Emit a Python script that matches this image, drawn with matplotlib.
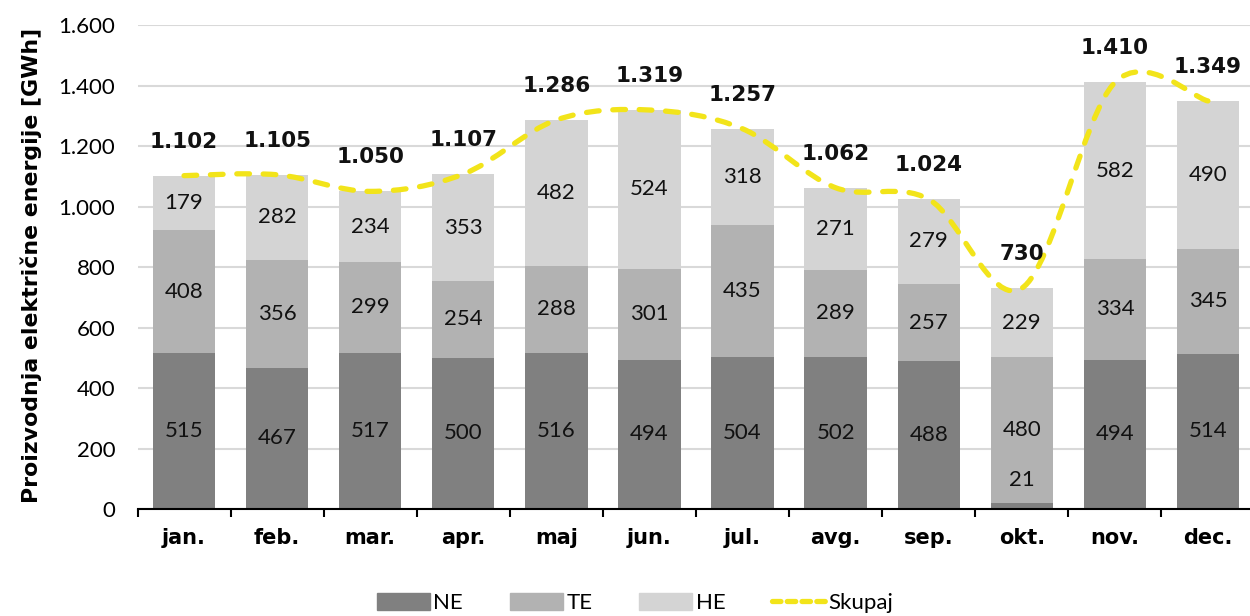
import matplotlib
matplotlib.use('Agg')
import matplotlib.pyplot as plt
import numpy as np
from matplotlib.path import Path
from matplotlib.patches import PathPatch
from matplotlib.lines import Line2D
from matplotlib.ticker import FuncFormatter

plt.rcParams['font.family'] = ['Lato', 'DejaVu Sans']

months = ['jan.', 'feb.', 'mar.', 'apr.', 'maj', 'jun.', 'jul.', 'avg.', 'sep.', 'okt.', 'nov.', 'dec.']
ne = [515, 467, 517, 500, 516, 494, 504, 502, 488, 21, 494, 514]
te = [408, 356, 299, 254, 288, 301, 435, 289, 257, 480, 334, 345]
he = [179, 282, 234, 353, 482, 524, 318, 271, 279, 229, 582, 490]
skupaj = [1102, 1105, 1050, 1107, 1286, 1319, 1257, 1062, 1024, 730, 1410, 1349]

C_NE, C_TE, C_HE = '#808080', '#b2b2b2', '#d4d4d4'
YELLOW = '#f2e41a'
FS = 16
BOLD = ['DejaVu Sans']


def fmt(v):
    return f'{int(v):,}'.replace(',', '.')


def smooth_path(xs, ys):
    # Excel-like smoothed line: Catmull-Rom converted to cubic Bezier
    pts = np.column_stack([xs, ys]).astype(float)
    ext = np.vstack([pts[0], pts, pts[-1]])
    verts = [pts[0]]
    codes = [Path.MOVETO]
    for i in range(len(pts) - 1):
        p0, p1, p2, p3 = ext[i], ext[i + 1], ext[i + 2], ext[i + 3]
        verts += [p1 + (p2 - p0) / 6, p2 - (p3 - p1) / 6, p2]
        codes += [Path.CURVE4] * 3
    return Path(verts, codes)


fig = plt.figure(figsize=(12.5, 6.16), dpi=100)
ax = fig.add_axes([0.11, 0.1737, 0.8936, 0.7857])

x = np.arange(len(months))
w = 0.67
ne_a, te_a, he_a = np.array(ne), np.array(te), np.array(he)
ax.bar(x, ne_a, w, color=C_NE, zorder=2)
ax.bar(x, te_a, w, bottom=ne_a, color=C_TE, zorder=2)
ax.bar(x, he_a, w, bottom=ne_a + te_a, color=C_HE, zorder=2)

for i in x:
    for base, val in [(0, ne_a[i]), (ne_a[i], te_a[i]), (ne_a[i] + te_a[i], he_a[i])]:
        if val < 60:
            ax.annotate(str(val), (i, base + val), xytext=(0, 16), textcoords='offset points',
                        ha='center', va='center', fontsize=FS, color='#111111', zorder=4)
        else:
            ax.text(i, base + val / 2, str(val), ha='center', va='center',
                    fontsize=FS, color='#111111', zorder=4)
    ax.annotate(fmt(skupaj[i]), (i, skupaj[i]), xytext=(0, 24.5), textcoords='offset points',
                ha='center', va='center', fontsize=15.5, fontweight='bold', family=BOLD,
                color='#111111', zorder=5)

path = smooth_path(x, skupaj)
ax.add_patch(PathPatch(path, fill=False, edgecolor=YELLOW, lw=3.8,
                       linestyle=(0, (2.4, 2.6)), capstyle='round', zorder=3))

ax.set_xlim(-0.5, len(months) - 0.5)
ax.set_ylim(0, 1600)
ax.set_yticks(np.arange(0, 1601, 200))
ax.yaxis.set_major_formatter(FuncFormatter(lambda v, p: fmt(v)))
ax.grid(axis='y', color='#d9d9d9', lw=1.5, zorder=0)
ax.set_axisbelow(True)

ax.set_xticks(x)
ax.set_xticklabels(months, fontweight='bold', family=BOLD)
ax.set_xticks(np.arange(-0.5, len(months), 1), minor=True)
ax.tick_params(axis='x', which='major', length=0, pad=14, labelsize=15)
ax.tick_params(axis='x', which='minor', length=6, width=1.5, direction='out', color='black')
ax.tick_params(axis='y', length=0, pad=16, labelsize=FS)

for s in ['top', 'right', 'left']:
    ax.spines[s].set_visible(False)
ax.spines['bottom'].set_linewidth(1.5)
ax.spines['bottom'].set_zorder(6)

fig.text(0.025, 0.569, 'Proizvodnja električne energije [GWh]', rotation=90,
         ha='center', va='center', fontsize=15.8, fontweight='bold', family=BOLD)

handles = [plt.Rectangle((0, 0), 1, 1, color=C_NE),
           plt.Rectangle((0, 0), 1, 1, color=C_TE),
           plt.Rectangle((0, 0), 1, 1, color=C_HE),
           Line2D([], [], color=YELLOW, lw=3.8, linestyle=(0, (1.6, 1.2)), dash_capstyle='round')]
fig.legend(handles, ['NE', 'TE', 'HE', 'Skupaj'], loc='center', bbox_to_anchor=(0.508, 0.021),
           ncol=4, frameon=False, fontsize=FS, handlelength=2.4, handleheight=0.8,
           handletextpad=0.15, columnspacing=2.1, borderpad=0)

fig.savefig('out.png', dpi=100)
